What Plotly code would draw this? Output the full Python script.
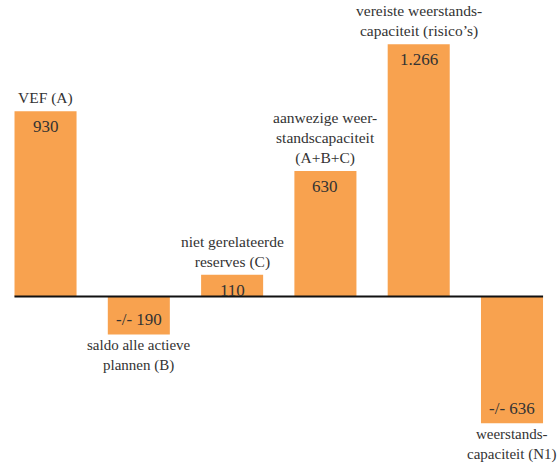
import plotly.graph_objects as go

categories = ["VEF (A)", "saldo alle actieve<br>plannen (B)", "niet gerelateerde<br>reserves (C)",
              "aanwezige weer-<br>standscapaciteit<br>(A+B+C)", "vereiste weerstands-<br>capaciteit (risico’s)",
              "weerstands-<br>capaciteit (N1)"]
values = [930, -190, 110, 630, 1266, -636]
value_labels = ["930", "-/- 190", "110", "630", "1.266", "-/- 636"]

BAR = "#F8A24F"
FONT = "Liberation Serif"
TXT = "#333333"

x = list(range(len(values)))
fig = go.Figure(go.Bar(x=x, y=values, width=0.665, marker=dict(color=BAR, line=dict(width=0)),
                       hoverinfo="skip"))

ann = []
for i, (v, lab, cat) in enumerate(zip(values, value_labels, categories)):
    if v >= 0:
        ann.append(dict(x=i, y=v, text=lab, yanchor="top", yshift=-4, showarrow=False,
                        font=dict(family=FONT, size=17, color=TXT)))
        ann.append(dict(x=i, y=v, text=cat, yanchor="bottom", yshift=2, showarrow=False,
                        font=dict(family=FONT, size=15.5, color=TXT)))
    else:
        ann.append(dict(x=i, y=v, text=lab, yanchor="bottom", yshift=3, showarrow=False,
                        font=dict(family=FONT, size=17, color=TXT)))
        ann.append(dict(x=i, y=v, text=cat, yanchor="top", yshift=-1, showarrow=False,
                        font=dict(family=FONT, size=15, color=TXT)))

fig.update_layout(
    width=558, height=464,
    margin=dict(l=0, r=0, t=0, b=0),
    paper_bgcolor="white", plot_bgcolor="white",
    showlegend=False,
    font=dict(family=FONT, color=TXT),
    annotations=ann,
    shapes=[dict(type="line", xref="x", yref="y", x0=-0.333, x1=5.333, y0=0, y1=0,
                 line=dict(color="#111111", width=2))],
    xaxis=dict(range=[-0.488, 5.493], visible=False),
    yaxis=dict(range=[-840, 1488], visible=False),
)
fig.write_html("out.html", config={"displayModeBar": False},
               post_script="document.body.style.margin='0';document.body.style.overflow='hidden';")
